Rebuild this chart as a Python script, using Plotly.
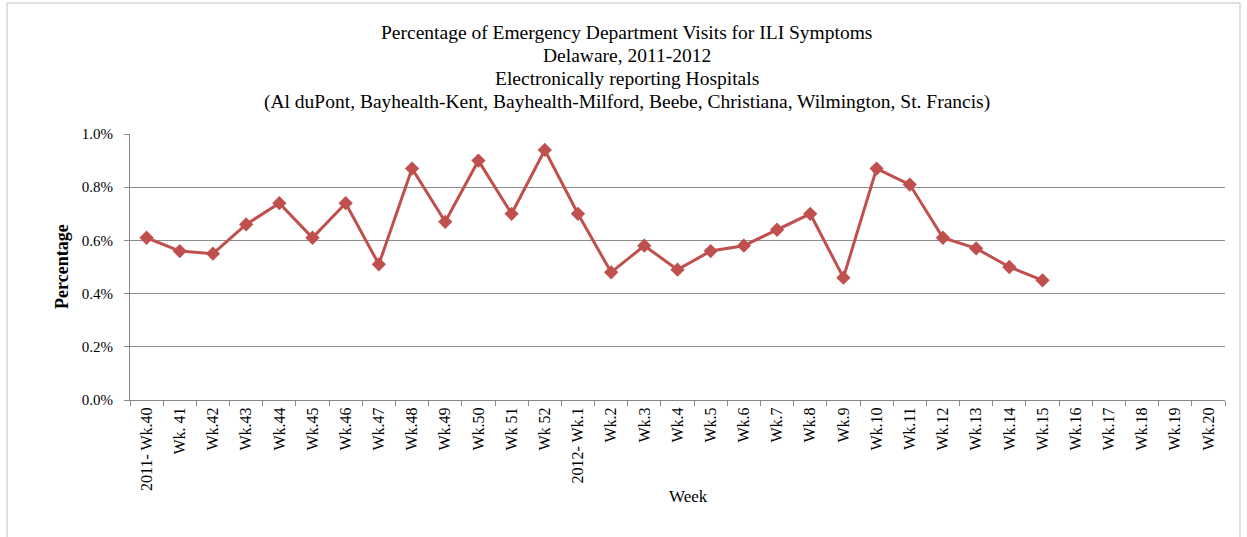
import plotly.graph_objects as go

weeks = ["2011- Wk.40", "Wk. 41", "Wk.42", "Wk.43", "Wk.44", "Wk.45", "Wk.46", "Wk.47",
         "Wk.48", "Wk.49", "Wk.50", "Wk 51", "Wk 52", "2012- Wk.1", "Wk.2", "Wk.3", "Wk.4",
         "Wk.5", "Wk.6", "Wk.7", "Wk.8", "Wk.9", "Wk.10", "Wk.11", "Wk.12", "Wk.13", "Wk.14",
         "Wk.15", "Wk.16", "Wk.17", "Wk.18", "Wk.19", "Wk.20"]
pct = [0.61, 0.56, 0.55, 0.66, 0.74, 0.61, 0.74, 0.51, 0.87, 0.67, 0.90, 0.70, 0.94,
       0.70, 0.48, 0.58, 0.49, 0.56, 0.58, 0.64, 0.70, 0.46, 0.87, 0.81, 0.61, 0.57, 0.50, 0.45]
y_ticks = [0.0, 0.2, 0.4, 0.6, 0.8, 1.0]
y_labels = [f"{v:.1f}%" for v in y_ticks]
title_lines = [
    "Percentage of Emergency Department Visits for ILI Symptoms",
    "Delaware, 2011-2012",
    "Electronically reporting Hospitals",
    "(Al duPont, Bayhealth-Kent, Bayhealth-Milford, Beebe, Christiana, Wilmington, St. Francis)",
]

FONT = "Liberation Serif"

fig = go.Figure()
fig.add_trace(go.Scatter(
    x=weeks[:len(pct)], y=pct, mode="lines+markers",
    line=dict(color="#C0504D", width=3),
    marker=dict(symbol="diamond", size=11, color="#C0504D"),
    showlegend=False,
))

W, H = 1247, 537
L, R, T, B = 130, 22, 134, 137
pw, ph = W - L - R, H - T - B

def px(x):
    return (x - L) / pw

def py(y):
    return (H - B - y) / ph

title_y = [32, 55.3, 78.6, 102]
annotations = [
    dict(text=t, x=px(626.5), y=py(yy), xref="paper", yref="paper",
         xanchor="center", yanchor="middle", showarrow=False,
         font=dict(family=FONT, size=19.5, color="#000000"))
    for t, yy in zip(title_lines, title_y)
]
annotations += [
    dict(text="<b>Percentage</b>", x=px(62), y=py(267), xref="paper", yref="paper",
         xanchor="center", yanchor="middle",
         textangle=-90, showarrow=False, font=dict(family=FONT, size=18)),
    dict(text="Week", x=px(688), y=py(496), xref="paper", yref="paper",
         xanchor="center", yanchor="middle",
         showarrow=False, font=dict(family=FONT, size=17)),
]

fig.update_layout(
    width=W, height=H,
    margin=dict(l=L, r=R, t=T, b=B),
    paper_bgcolor="white", plot_bgcolor="white",
    font=dict(family=FONT, size=15, color="#000000"),
    xaxis=dict(
        type="category", categoryorder="array", categoryarray=weeks,
        range=[-0.5, len(weeks) - 0.5],
        tickmode="array", tickvals=weeks, ticktext=weeks,
        tickangle=-90, tickson="boundaries", ticks="outside", ticklen=5,
        tickcolor="#888888", showline=True, linecolor="#888888", linewidth=1,
        showgrid=False, tickfont=dict(family=FONT, size=16),
    ),
    yaxis=dict(
        range=[0, 1.0], tickmode="array", tickvals=y_ticks, ticktext=y_labels,
        ticks="outside", ticklen=5, tickcolor="#888888", ticklabelstandoff=8,
        showline=True, linecolor="#888888", linewidth=1,
        showgrid=True, gridcolor="#8c8c8c", gridwidth=1, zeroline=False,
        tickfont=dict(family=FONT, size=15),
    ),
    annotations=annotations,
    shapes=[
        dict(type="rect", xref="paper", yref="paper",
             x0=px(7), x1=px(1240), y0=py(545), y1=py(3),
             line=dict(color="#bfbfbf", width=1), fillcolor="rgba(0,0,0,0)", layer="below"),
    ],
)

fig.write_html("out.html", config={"displayModeBar": False},
               post_script="document.body.style.margin='0';document.body.style.padding='0';")
